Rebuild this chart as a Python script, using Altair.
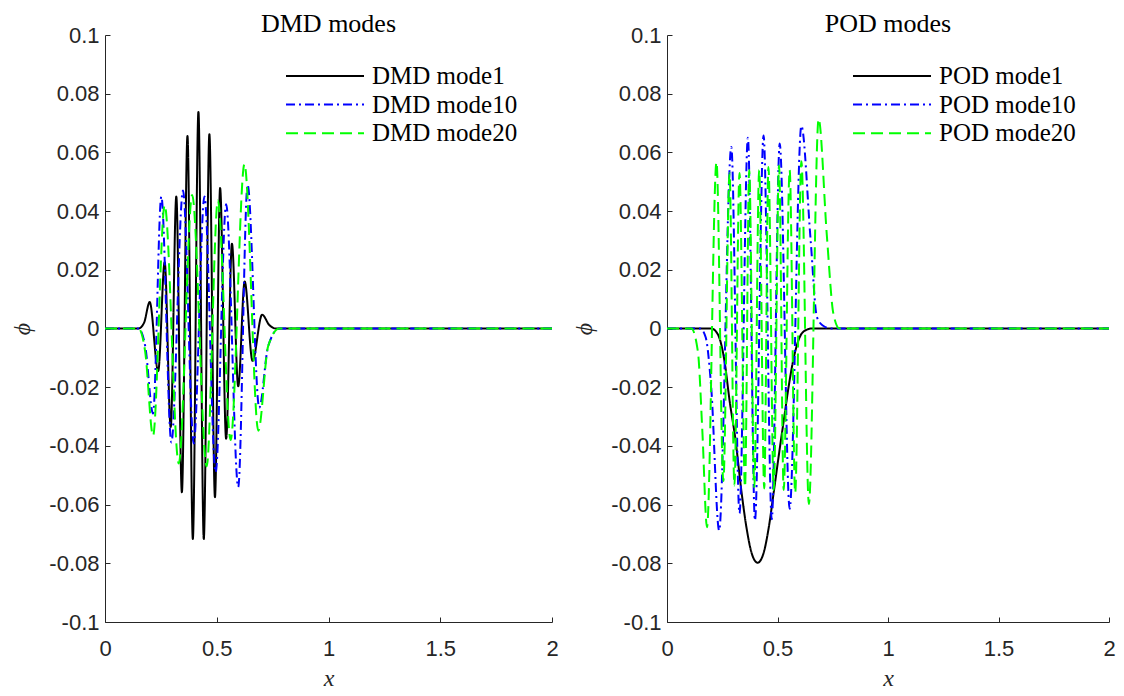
import altair as alt
import pandas as pd

# ---------------- DMD modes (left panel) ----------------
dmd_names = ["DMD mode1", "DMD mode10", "DMD mode20"]

dmd1_x = [0, 0.15, 0.175, 0.2, 0.238, 0.267, 0.294, 0.319, 0.344, 0.369, 0.393, 0.418,
          0.442, 0.467, 0.492, 0.515, 0.542, 0.568, 0.596, 0.625, 0.66, 0.703, 0.735, 0.765, 2.0]
dmd1_y = [0, 0, 0.002, 0.009, -0.0145, 0.0226, -0.0336, 0.045, -0.0558, 0.0656, -0.0717, 0.0738,
          -0.0717, 0.0662, -0.0575, 0.0479, -0.0376, 0.0289, -0.0197, 0.016, -0.011, 0.0047, 0.0012, 0, 0]

dmd10_x = [0, 0.15, 0.18, 0.215, 0.252, 0.297, 0.349, 0.397, 0.445, 0.495, 0.542, 0.596,
           0.638, 0.69, 0.73, 0.78, 2.0]
dmd10_y = [0, 0, -0.006, -0.029, 0.045, -0.0388, 0.047, -0.0392, 0.045, -0.049, 0.0423, -0.054,
           0.049, -0.027, -0.006, 0, 0]

dmd20_x = [0, 0.15, 0.18, 0.215, 0.267, 0.33, 0.39, 0.455, 0.505, 0.562, 0.624, 0.686,
           0.73, 0.78, 2.0]
dmd20_y = [0, 0, -0.008, -0.0365, 0.042, -0.046, 0.0455, -0.047, 0.0436, -0.038, 0.056, -0.0348,
           -0.006, 0, 0]

# ---------------- POD modes (right panel) ----------------
pod_names = ["POD mode1", "POD mode10", "POD mode20"]

pod1_x = [0, 0.2, 0.23, 0.26, 0.283, 0.31, 0.336, 0.36, 0.385, 0.41, 0.435, 0.46, 0.484,
          0.51, 0.529, 0.55, 0.574, 0.604, 0.63, 0.656, 2.0]
pod1_y = [0, 0, -0.002, -0.011, -0.0245, -0.038, -0.055, -0.068, -0.077, -0.0798, -0.077,
          -0.068, -0.0552, -0.041, -0.031, -0.02, -0.0098, -0.0024, -0.0005, 0, 0]

pod10_x = [0, 0.15, 0.175, 0.2, 0.236, 0.291, 0.328, 0.366, 0.398, 0.437, 0.474, 0.51,
           0.555, 0.608, 0.65, 0.678, 0.705, 0.74, 2.0]
pod10_y = [0, 0, -0.003, -0.02, -0.0688, 0.0618, -0.063, 0.065, -0.0654, 0.0658, -0.065, 0.063,
           -0.0614, 0.069, 0.03, 0.004, 0.001, 0, 0]

pod20_x = [0, 0.11, 0.14, 0.16, 0.181, 0.224, 0.255, 0.283, 0.305, 0.328, 0.353, 0.372,
           0.395, 0.417, 0.44, 0.459, 0.483, 0.507, 0.528, 0.555, 0.58, 0.608, 0.642, 0.686,
           0.723, 0.753, 0.78, 2.0]
pod20_y = [0, 0, -0.008, -0.035, -0.0677, 0.0567, -0.052, 0.053, -0.0535, 0.053, -0.054, 0.054,
           -0.054, 0.054, -0.0545, 0.055, -0.055, 0.0555, -0.055, 0.054, -0.056, 0.057, -0.0598,
           0.0714, 0.032, 0.005, 0, 0]

x_ticks = [0, 0.5, 1, 1.5, 2]
y_ticks = [-0.1, -0.08, -0.06, -0.04, -0.02, 0, 0.02, 0.04, 0.06, 0.08, 0.1]

SERIF = "Liberation Serif, DejaVu Serif, serif"
SANS = "Liberation Sans, Arial, sans-serif"
AXC = "#262626"


def frame(names, xs, ys):
    rows = []
    for n, xv, yv in zip(names, xs, ys):
        for a, b in zip(xv, yv):
            rows.append({"x": a, "phi": b, "mode": n})
    return pd.DataFrame(rows)


def panel(df, names, title, lx, w):
    legend = alt.Legend(
        title=None, orient="none", legendX=lx, legendY=31,
        symbolType="stroke", symbolSize=6084, symbolStrokeWidth=2,
        clipHeight=20, rowPadding=3.6, labelOffset=7,
        labelFont=SERIF, labelFontSize=25, labelColor="black",
        padding=0, labelLimit=400,
    )
    color = alt.Color("mode:N", sort=names,
                      scale=alt.Scale(domain=names, range=["#000000", "#0000ff", "#00ff00"]),
                      legend=legend)
    dash = alt.StrokeDash("mode:N", sort=names,
                          scale=alt.Scale(domain=names, range=[[1, 0], [9, 4, 2, 4], [12, 6]]),
                          legend=legend)
    return alt.Chart(df).mark_line(interpolate="monotone", strokeWidth=2).encode(
        x=alt.X("x:Q", scale=alt.Scale(domain=[0, 2], nice=False),
                axis=alt.Axis(values=x_ticks, labelExpr="toString(datum.value)", title="x",
                              labelPadding=21.5, titlePadding=7, labelFlush=False,
                              labelOverlap=False)),
        y=alt.Y("phi:Q", scale=alt.Scale(domain=[-0.1, 0.1], nice=False, zero=False),
                axis=alt.Axis(values=y_ticks, labelExpr="toString(datum.value)", title="ϕ",
                              labelPadding=11, titlePadding=14, labelOverlap=False)),
        color=color,
        strokeDash=dash,
    ).properties(
        width=w, height=587,
        title=alt.TitleParams(title, font=SERIF, fontSize=26, fontWeight="normal",
                              color="black", anchor="middle", offset=-13.4),
    )


left = panel(frame(dmd_names, [dmd1_x, dmd10_x, dmd20_x], [dmd1_y, dmd10_y, dmd20_y]),
             dmd_names, "DMD modes", 180, 447)
right = panel(frame(pod_names, [pod1_x, pod10_x, pod20_x], [pod1_y, pod10_y, pod20_y]),
              pod_names, "POD modes", 185, 442)

chart = alt.hconcat(left, right, spacing=13).resolve_scale(
    color="independent", strokeDash="independent"
).properties(
    padding={"left": 2, "top": 3, "right": 0, "bottom": 0}
).configure_view(stroke=None).configure_axis(
    grid=False,
    domainColor=AXC, domainWidth=1,
    tickColor=AXC, tickWidth=1, tickSize=alt.ExprRef("-5"),
    labelColor=AXC, labelFont=SANS, labelFontSize=22,
    titleFont=SERIF, titleFontSize=24, titleFontStyle="italic", titleFontWeight="normal",
    titleColor=AXC,
)

chart.save("out.html", embed_options={"renderer": "svg", "actions": False})
